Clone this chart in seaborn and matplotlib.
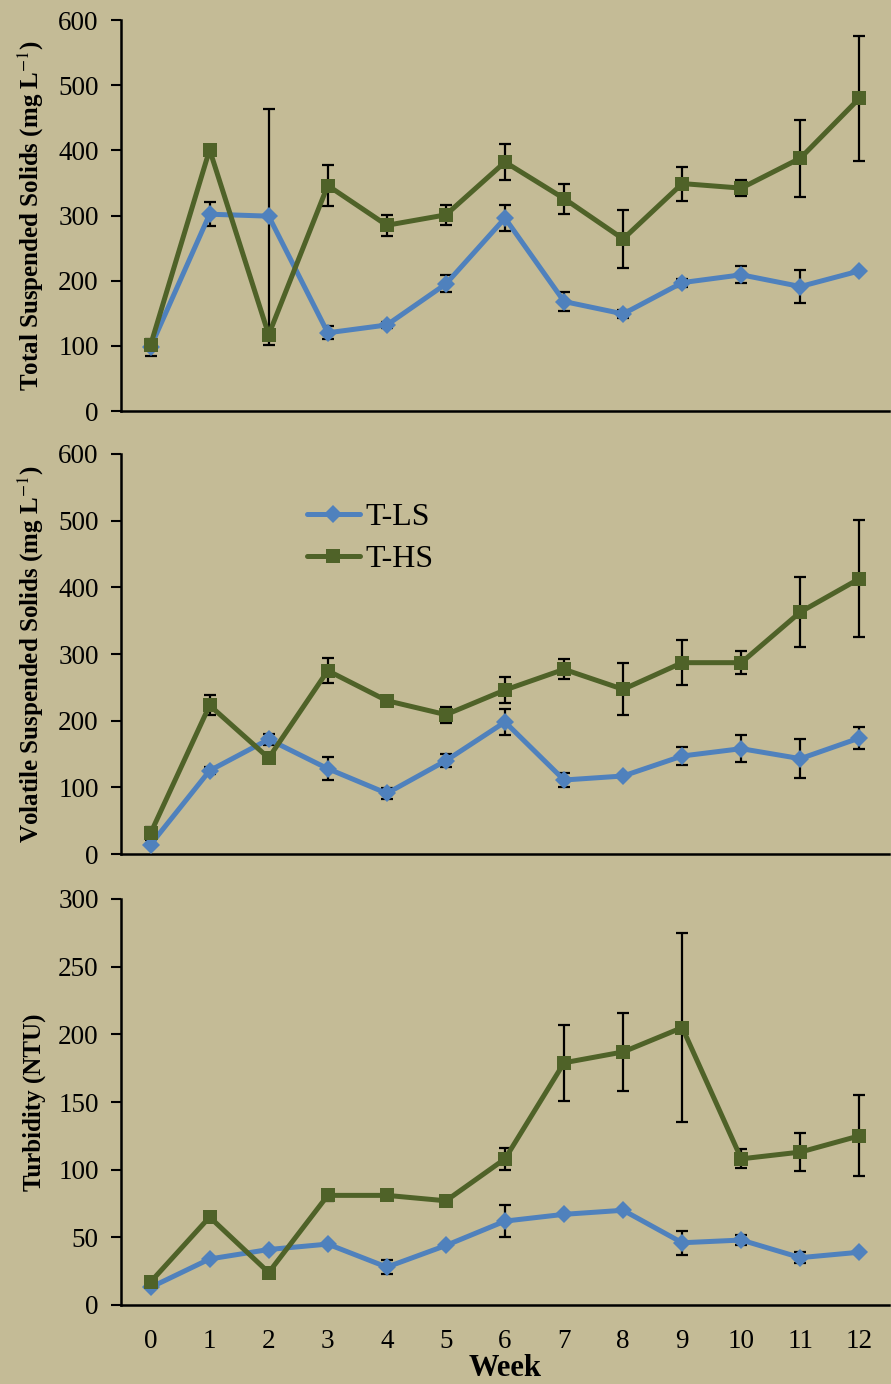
import numpy as np
import pandas as pd
import seaborn as sns
import matplotlib.pyplot as plt

sns.set_style("white")
plt.rcParams['font.family'] = ['Liberation Serif', 'DejaVu Serif']
plt.rcParams['mathtext.fontset'] = 'stix'
plt.rcParams['text.color'] = 'black'
plt.rcParams['axes.labelcolor'] = 'black'
plt.rcParams['xtick.color'] = 'black'
plt.rcParams['ytick.color'] = 'black'

BG = '#C4BB96'
BLUE = '#4F81BD'
GREEN = '#4F6228'

weeks = list(range(13))

# Total suspended solids (mg/L)
tss_ls = [98, 302, 299, 120, 132, 195, 296, 168, 149, 197, 209, 191, 215]
tss_ls_sd = [13, 18, 0, 10, 5, 13, 20, 14, 6, 6, 13, 26, 0]
tss_hs = [101, 401, 117, 346, 285, 301, 382, 326, 264, 349, 342, 388, 480]
tss_hs_lo = [3, 0, 15, 31, 16, 15, 27, 23, 45, 26, 12, 59, 96]
tss_hs_hi = [3, 0, 347, 31, 16, 15, 27, 23, 45, 26, 12, 59, 96]

# Volatile suspended solids (mg/L)
vss_ls = [14, 125, 172, 128, 91, 140, 198, 111, 117, 147, 158, 143, 174]
vss_ls_sd = [0, 5, 8, 17, 8, 10, 20, 10, 0, 13, 20, 29, 16]
vss_hs = [31, 223, 144, 275, 230, 209, 246, 277, 247, 287, 287, 363, 413]
vss_hs_sd = [10, 15, 0, 19, 0, 12, 19, 15, 39, 34, 17, 52, 88]

# Turbidity (NTU)
tur_ls = [13, 34, 41, 45, 28, 44, 62, 67, 70, 46, 48, 35, 39]
tur_ls_sd = [0, 0, 0, 0, 5, 0, 12, 0, 0, 9, 4, 4, 0]
tur_hs = [17, 65, 24, 81, 81, 77, 108, 179, 187, 205, 108, 113, 125]
tur_hs_sd = [0, 0, 0, 4, 0, 0, 8, 28, 29, 70, 7, 14, 30]

panels = [
    ('Total Suspended Solids (mg L$^{-1}$)', tss_ls, tss_ls_sd, tss_hs,
     [tss_hs_lo, tss_hs_hi], 600, 100),
    ('Volatile Suspended Solids (mg L$^{-1}$)', vss_ls, vss_ls_sd, vss_hs,
     vss_hs_sd, 600, 100),
    ('Turbidity (NTU)', tur_ls, tur_ls_sd, tur_hs, tur_hs_sd, 300, 50),
]

W, H = 891, 1384
fig = plt.figure(figsize=(W / 100, H / 100), dpi=100, facecolor=BG)
boxes = [(20, 411), (454, 854), (899, 1305)]
left, right = 121, 889

for i, (label, ls, ls_sd, hs, hs_err, ymax, step) in enumerate(panels):
    top, bot = boxes[i]
    ax = fig.add_axes([left / W, 1 - bot / H, (right - left) / W, (bot - top) / H])
    ax.set_facecolor(BG)

    df = pd.DataFrame({'Week': weeks, 'T-LS': ls, 'T-HS': hs})
    ax.errorbar(weeks, ls, yerr=ls_sd, fmt='none', ecolor='black',
                elinewidth=1.6, capsize=4.5, capthick=1.6, zorder=2)
    ax.errorbar(weeks, hs, yerr=hs_err, fmt='none', ecolor='black',
                elinewidth=1.6, capsize=4.5, capthick=1.6, zorder=2)
    sns.lineplot(data=df, x='Week', y='T-LS', ax=ax, color=BLUE, marker='D',
                 markersize=9.2, markeredgewidth=0, linewidth=3.6, label='T-LS',
                 zorder=3)
    sns.lineplot(data=df, x='Week', y='T-HS', ax=ax, color=GREEN, marker='s',
                 markersize=10, markeredgewidth=0, linewidth=3.6, label='T-HS',
                 zorder=4)

    ax.set_xlim(-0.5, 12.5)
    ax.set_ylim(0, ymax)
    ax.set_yticks(np.arange(0, ymax + 1, step))
    ax.set_xticks(weeks)
    ax.set_xticks(np.arange(-0.5, 13, 1), minor=True)
    ax.tick_params(axis='x', which='major', length=0, pad=17, labelsize=19.5)
    ax.tick_params(axis='x', which='minor', length=6, width=1.5, direction='out')
    ax.tick_params(axis='y', length=7, width=1.5, direction='out', pad=9,
                   labelsize=19.5, left=True)
    for s in ['top', 'right']:
        ax.spines[s].set_visible(False)
    for s in ['left', 'bottom']:
        ax.spines[s].set_linewidth(1.8)
        ax.spines[s].set_color('black')

    ax.set_ylabel(label, fontsize=18, fontweight='bold')
    ax.yaxis.set_label_coords(-0.098, 0.5)

    if i < 2:
        ax.set_xticklabels([])
        ax.set_xlabel('')
    else:
        ax.set_xlabel('Week', fontsize=22, fontweight='bold', labelpad=0)

    if i == 1:
        ax.legend(loc='upper left', bbox_to_anchor=(0.225, 0.91), frameon=False,
                  fontsize=23, handlelength=1.66, handletextpad=0.19,
                  labelspacing=0.4, borderaxespad=0)
    else:
        ax.get_legend().remove()

fig.savefig('out.png', dpi=100, facecolor=BG)
